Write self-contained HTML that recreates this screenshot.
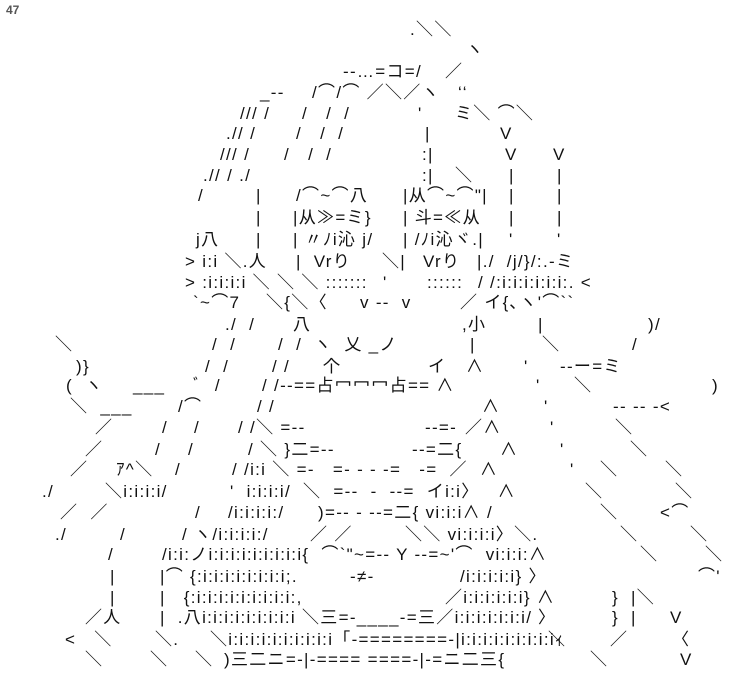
<!DOCTYPE html>
<html><head><meta charset="utf-8"><style>
body{margin:0;width:737px;height:675px;background:#fff;position:relative;overflow:hidden;font-family:"Liberation Sans","Noto Sans CJK JP",sans-serif;}
i{position:absolute;font-style:normal;white-space:pre;font-size:17px;line-height:20px;letter-spacing:1.3px;color:#111;}
.n{left:6px;top:0;font-size:12px;font-weight:bold;color:#555;letter-spacing:0;}
</style></head><body>
<i class="n">47</i>
<i style="left:410px;top:20px">.＼＼</i>
<i style="left:466px;top:40px">ヽ</i>
<i style="left:343px;top:62px">--…=コ=/</i><i style="left:445px;top:62px">／</i>
<i style="left:260px;top:83px">_--</i><i style="left:312px;top:83px">/⌒/⌒ ／＼／ヽ   ‘‘</i>
<i style="left:240px;top:104px">/// /</i><i style="left:302px;top:104px">/   /  /</i><i style="left:418px;top:104px">'</i><i style="left:455px;top:104px">ミ＼ ⌒＼</i>
<i style="left:226px;top:124px">.// /</i><i style="left:296px;top:124px">/   /  /</i><i style="left:425px;top:124px">|</i><i style="left:500px;top:124px">V</i>
<i style="left:220px;top:145px">/// /</i><i style="left:284px;top:145px">/   /  /</i><i style="left:422px;top:145px">:|</i><i style="left:505px;top:145px">V</i><i style="left:553px;top:145px">V</i>
<i style="left:203px;top:166px">.// / ./</i><i style="left:422px;top:166px">:|</i><i style="left:455px;top:166px">＼</i><i style="left:509px;top:166px">|</i><i style="left:557px;top:166px">|</i>
<i style="left:198px;top:186px">/</i><i style="left:256px;top:186px">|</i><i style="left:296px;top:186px">/⌒~⌒八</i><i style="left:403px;top:186px">|从⌒~⌒"|</i><i style="left:509px;top:186px">|</i><i style="left:557px;top:186px">|</i>
<i style="left:256px;top:208px">|</i><i style="left:293px;top:208px">|从≫=ミ}</i><i style="left:403px;top:208px">| 斗=≪从</i><i style="left:509px;top:208px">|</i><i style="left:557px;top:208px">|</i>
<i style="left:196px;top:230px">j八</i><i style="left:256px;top:230px">|</i><i style="left:293px;top:230px">| 〃ﾉi沁 j/</i><i style="left:403px;top:230px">| /ﾉi沁ヾ.|</i><i style="left:509px;top:230px">'</i><i style="left:557px;top:230px">'</i>
<i style="left:185px;top:252px">&gt; i:i ＼.人</i><i style="left:296px;top:252px">|  Vrり</i><i style="left:382px;top:252px">＼|</i><i style="left:423px;top:252px">Vrり</i><i style="left:477px;top:252px">|./  /j/}/:.-ミ</i>
<i style="left:185px;top:273px">&gt; :i:i:i:i ＼ ＼ ＼ :::::::</i><i style="left:383px;top:273px">'</i><i style="left:427px;top:273px">::::::</i><i style="left:478px;top:273px">/ /:i:i:i:i:i:i:. &lt;</i>
<i style="left:193px;top:293px">`~⌒7</i><i style="left:266px;top:293px">＼{＼〈</i><i style="left:360px;top:293px">v --  v</i><i style="left:460px;top:293px">／ イ{､ヽ'⌒``</i>
<i style="left:225px;top:315px">./  /</i><i style="left:293px;top:315px">八</i><i style="left:462px;top:315px">,小</i><i style="left:538px;top:315px">|</i><i style="left:648px;top:315px">)/</i>
<i style="left:55px;top:335px">＼</i><i style="left:212px;top:335px">/  /</i><i style="left:278px;top:335px">/  /</i><i style="left:314px;top:335px">ヽ  乂 _ノ</i><i style="left:470px;top:335px">|</i><i style="left:542px;top:335px">＼</i><i style="left:632px;top:335px">/</i>
<i style="left:76px;top:357px">)}</i><i style="left:205px;top:357px">/  /</i><i style="left:272px;top:357px">/ /</i><i style="left:323px;top:357px">个</i><i style="left:428px;top:357px">イ</i><i style="left:466px;top:357px">∧</i><i style="left:524px;top:357px">'</i><i style="left:560px;top:357px">--ー=ミ</i>
<i style="left:66px;top:376px">(  ヽ</i><i style="left:133px;top:376px">___</i><i style="left:193px;top:376px">ﾞ  /</i><i style="left:262px;top:376px">/ /--==占冖冖冖占== ∧</i><i style="left:536px;top:376px">'</i><i style="left:574px;top:376px">＼</i><i style="left:712px;top:376px">)</i>
<i style="left:70px;top:397px">＼  ___</i><i style="left:178px;top:397px">/⌒</i><i style="left:257px;top:397px">/ /</i><i style="left:482px;top:397px">∧</i><i style="left:544px;top:397px">'</i><i style="left:613px;top:397px">-- -- -&lt;</i>
<i style="left:95px;top:418px">／</i><i style="left:162px;top:418px">/</i><i style="left:194px;top:418px">/</i><i style="left:238px;top:418px">/ /＼ =--</i><i style="left:425px;top:418px">--=-</i><i style="left:465px;top:418px">／∧</i><i style="left:550px;top:418px">'</i><i style="left:615px;top:418px">＼</i>
<i style="left:85px;top:440px">／</i><i style="left:155px;top:440px">/</i><i style="left:188px;top:440px">/</i><i style="left:248px;top:440px">/ ＼ }二=--</i><i style="left:412px;top:440px">--=二{</i><i style="left:500px;top:440px">∧</i><i style="left:560px;top:440px">'</i><i style="left:630px;top:440px">＼</i>
<i style="left:70px;top:460px">／</i><i style="left:116px;top:460px">ｱ^＼</i><i style="left:175px;top:460px">/</i><i style="left:232px;top:460px">/ /i:i ＼ =-   =- - - -=   -=  ／  ∧</i><i style="left:570px;top:460px">'</i><i style="left:600px;top:460px">＼</i><i style="left:665px;top:460px">＼</i>
<i style="left:42px;top:482px">./</i><i style="left:105px;top:482px">＼i:i:i:i/</i><i style="left:230px;top:482px">'  i:i:i:i/  ＼  =--  -  --=  イi:i〉   ∧</i><i style="left:585px;top:482px">＼</i><i style="left:675px;top:482px">＼</i>
<i style="left:60px;top:503px">／  ／</i><i style="left:195px;top:503px">/</i><i style="left:228px;top:503px">/i:i:i:i:/</i><i style="left:318px;top:503px">)=-- - --=二{ vi:i:i∧ /</i><i style="left:600px;top:503px">＼</i><i style="left:660px;top:503px">&lt;⌒</i>
<i style="left:55px;top:525px">./</i><i style="left:120px;top:525px">/</i><i style="left:182px;top:525px">/ ヽ/i:i:i:i:/</i><i style="left:310px;top:525px">／ ／</i><i style="left:405px;top:525px">＼＼ vi:i:i:i〉＼.</i><i style="left:620px;top:525px">＼</i><i style="left:690px;top:525px">＼</i>
<i style="left:108px;top:545px">/</i><i style="left:162px;top:545px">/i:i:ノi:i:i:i:i:i:i:i:i{  ⌒`"~=-- Y --=~'⌒  vi:i:i:∧</i><i style="left:640px;top:545px">＼</i><i style="left:705px;top:545px">＼</i>
<i style="left:110px;top:567px">|</i><i style="left:160px;top:567px">|⌒ {:i:i:i:i:i:i:i:i;.</i><i style="left:350px;top:567px">-≠-</i><i style="left:460px;top:567px">/i:i:i:i:i} 〉</i><i style="left:698px;top:567px">⌒'</i>
<i style="left:110px;top:588px">|</i><i style="left:160px;top:588px">|   {:i:i:i:i:i:i:i:i:i:,</i><i style="left:445px;top:588px">／i:i:i:i:i:i} ∧</i><i style="left:612px;top:588px">}  |＼</i>
<i style="left:85px;top:608px">／人</i><i style="left:160px;top:608px">|  .八i:i:i:i:i:i:i:i:i ＼三=-____-=三／i:i:i:i:i:i:i/</i><i style="left:538px;top:608px">〉</i><i style="left:612px;top:608px">}  |</i><i style="left:670px;top:608px">V</i>
<i style="left:65px;top:630px">&lt;   ＼</i><i style="left:155px;top:630px">＼.</i><i style="left:210px;top:630px">＼i:i:i:i:i:i:i:i:i:i「-========-|i:i:i:i:i:i:i:i:iｨ</i><i style="left:548px;top:630px">＼</i><i style="left:610px;top:630px">／</i><i style="left:672px;top:630px">〈</i>
<i style="left:85px;top:650px">＼</i><i style="left:150px;top:650px">＼</i><i style="left:195px;top:650px">＼</i><i style="left:224px;top:650px">)三二ニ=-|-==== ====-|-=ニ二三{</i><i style="left:590px;top:650px">＼</i><i style="left:680px;top:650px">V</i>
</body></html>
